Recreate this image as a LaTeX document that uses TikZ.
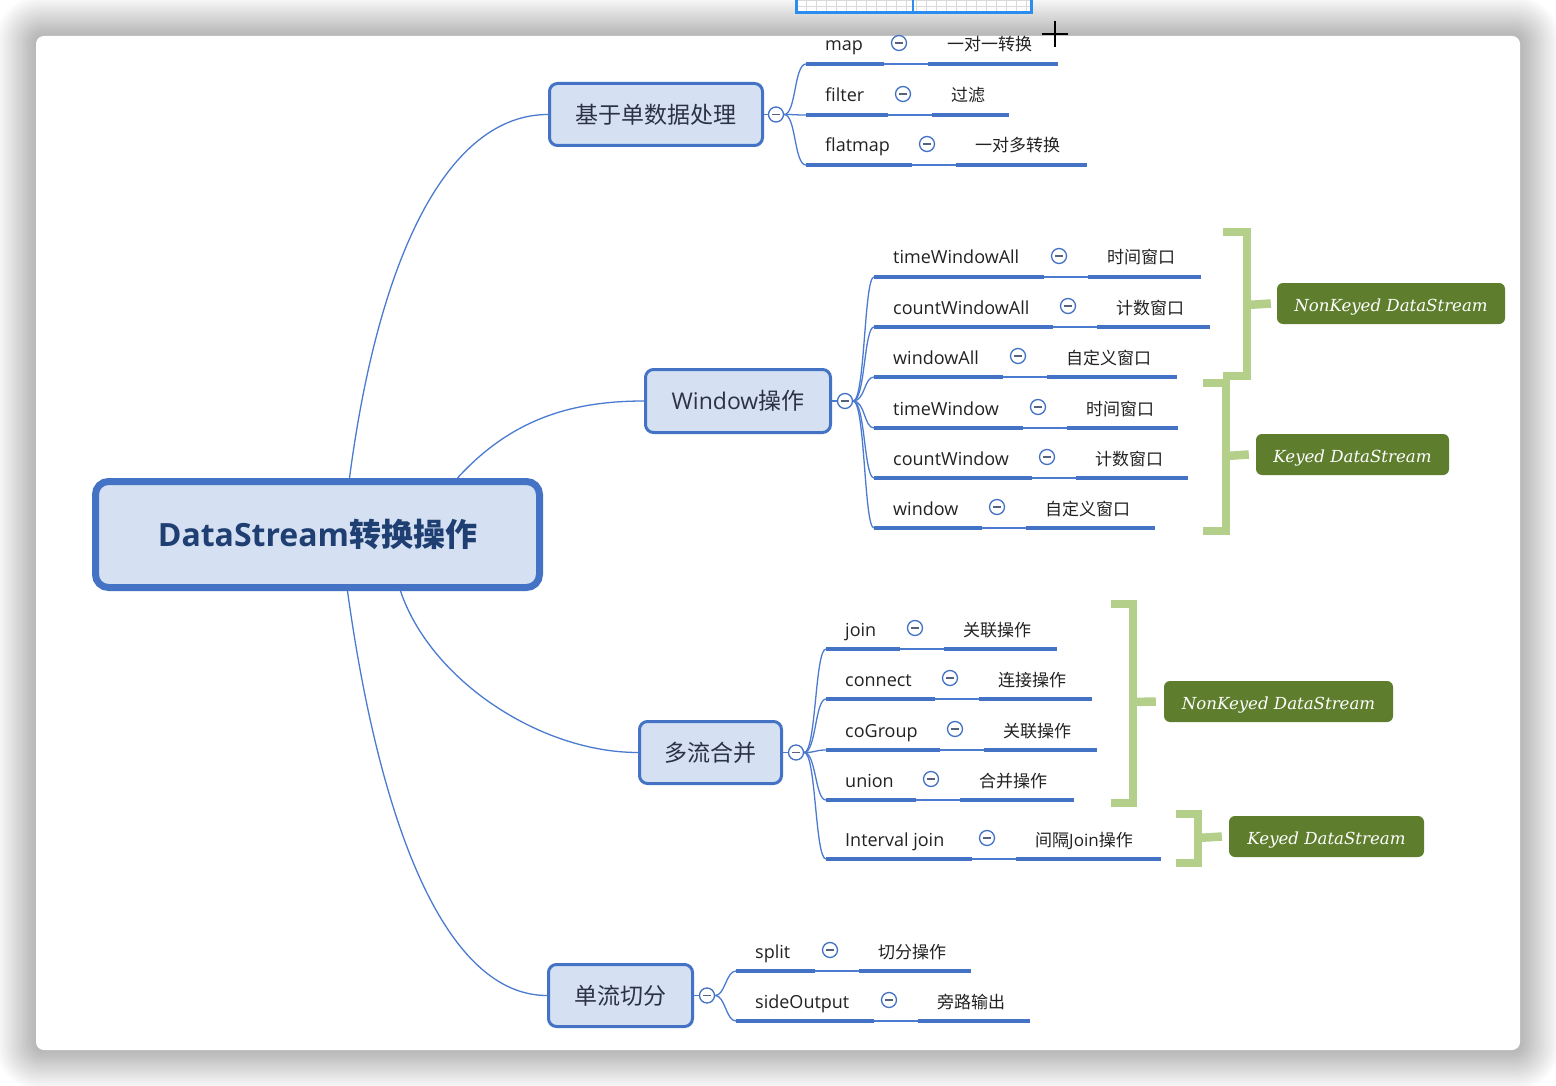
\documentclass[tikz,border=0pt]{standalone}
\usepackage{fontspec}
\setmainfont{Open Sans}
\newfontfamily\cjk{Noto Sans CJK SC}
\newfontfamily\gserif{DejaVu Serif}
\usetikzlibrary{calc}
\definecolor{ublue}{HTML}{4472C4}
\definecolor{cblue}{HTML}{4A7BD0}
\definecolor{boxfill}{HTML}{D5E1F2}
\definecolor{roottext}{HTML}{1F3F73}
\definecolor{l1text}{HTML}{2B3245}
\definecolor{leaftext}{HTML}{222222}
\definecolor{brkgreen}{HTML}{B4CF8A}
\definecolor{boxgreen}{HTML}{5E7E2E}
\definecolor{minusc}{HTML}{55627D}
\definecolor{gridblue}{HTML}{2D8CF0}
\newcommand\zh[1]{{\cjk #1}}
\newcommand\leaf[7]{%
  \coordinate (#1a) at (#3,#2);
  \coordinate (#1b) at (#4,#2);
  \coordinate (#1c) at (#4+44,#2);
  \coordinate (#1d) at (#5,#2);
  \draw[uline] (#1a) -- (#1b);
  \draw[conn] (#1b) -- (#1c);
  \draw[uline] (#1c) -- (#1d);
  \node[lbl] (#1t) at ($(#1a)+(19,-13)$) {#6};
  \node[dsc] (#1s) at ($(#1c)+(19,-13)$) {#7};
  \node[tog] (#1o) at ($(#1b)+(15,-21)$) {};
}
\begin{document}
\begin{tikzpicture}[x=1pt,y=-1pt,
  uline/.style={draw=ublue, line width=4.2pt},
  conn/.style={draw=cblue, line width=1.3pt},
  lbl/.style={anchor=base west, inner sep=0pt, text=leaftext, font=\fontsize{18}{20}\selectfont},
  dsc/.style={anchor=base west, inner sep=0pt, text=leaftext, font=\cjk\fontsize{17}{20}\selectfont},
  tog/.style={circle, draw=ublue, line width=1.3pt, fill=white, minimum size=15pt, inner sep=0pt,
    path picture={\draw[minusc, line width=1.2pt] ($(path picture bounding box.center)+(-3.6,0)$) -- ($(path picture bounding box.center)+(3.6,0)$);}},
  lone/.style={draw=ublue, line width=3pt, fill=boxfill, rounded corners=8pt, inner sep=0pt,
    text=l1text, font=\fontsize{23}{26}\selectfont},
  rootbox/.style={draw=ublue, line width=7pt, fill=boxfill, rounded corners=13pt, inner sep=0pt,
    text=roottext, font=\bfseries\fontsize{32}{36}\selectfont},
  brk/.style={draw=brkgreen, line width=8.5pt},
  gbox/.style={fill=boxgreen, rounded corners=6pt, inner sep=0pt, minimum height=41pt,
    text height=15.8pt, text depth=0pt,
    text=white, font=\gserif\itshape\fontsize{16.6}{18}\selectfont}
]
\useasboundingbox (0,0) rectangle (1556,1086);
\fill[white] (0,0) rectangle (1556,1086);
% window shadow
\foreach \i in {1,...,18} {
  \fill[black, opacity=0.015, rounded corners=8+\i*2] (36-\i*2.2,36-\i*2.2) rectangle (1520+\i*2.2,1050+\i*2.2);
}
\fill[white, rounded corners=8pt] (36,36) rectangle (1520,1050);
% top screen element
\fill[white] (796,-4) rectangle (1031,13);
\foreach \gx in {806,816,...,1026} { \draw[black!15, line width=0.6pt] (\gx,-4) -- (\gx,13); }
\foreach \gy in {0,6} { \draw[black!15, line width=0.6pt] (796,\gy) -- (1031,\gy); }
\draw[gridblue, line width=3pt] (796,-4) rectangle (1031,13);
\draw[gridblue, line width=2pt] (913,-4) -- (913,13);
% cursor
\draw[black, line width=1.8pt] (1042,34) -- (1068,34);
\draw[black, line width=1.8pt] (1055,21) -- (1055,47);

% root and level-1 nodes
\node[rootbox, minimum width=444pt, minimum height=106pt] (root) at (317.5,534.5) {DataStream\zh{转换操作}};
\node[lone, minimum width=213pt, minimum height=62pt] (g1) at (656,114.5) {\zh{基于单数据处理}};
\node[lone, minimum width=185pt, minimum height=63pt] (g2) at (738,401) {Window\zh{操作}};
\node[lone, minimum width=142pt, minimum height=62pt] (g3) at (710.5,752.5) {\zh{多流合并}};
\node[lone, minimum width=144pt, minimum height=62pt] (g4) at (620.5,995.5) {\zh{单流切分}};

% root connectors
\draw[conn] ([xshift=32pt]root.north) .. controls +(30,-228) and +(-98,0) .. (g1.west);
\draw[conn] ([xshift=140pt]root.north) .. controls +(53,-58) and +(-74,0) .. (g2.west);
\draw[conn] ([xshift=83pt]root.south) .. controls +(30,89) and +(-98,0) .. (g3.west);
\draw[conn] ([xshift=30pt]root.south) .. controls +(33,239) and +(-100,0) .. (g4.west);

% level-1 toggles
\node[tog] (g1o) at ($(g1.east)+(12,0)$) {};
\node[tog] (g2o) at ($(g2.east)+(13,0)$) {};
\node[tog] (g3o) at ($(g3.east)+(13,0)$) {};
\node[tog] (g4o) at ($(g4.east)+(13,0)$) {};
\draw[conn] (g1.east) -- (g1o);
\draw[conn] (g2.east) -- (g2o);
\draw[conn] (g3.east) -- (g3o);
\draw[conn] (g4.east) -- (g4o);

% group 1 leaves
\leaf{map}{64}{806}{884}{1058}{map}{一对一转换}
\leaf{filter}{115}{806}{888}{1009}{filter}{过滤}
\leaf{flatmap}{165}{806}{912}{1087}{flatmap}{一对多转换}
% group 2 leaves
\leaf{twa}{277}{874}{1044}{1201}{timeWindowAll}{时间窗口}
\leaf{cwa}{327}{874}{1053}{1210}{countWindowAll}{计数窗口}
\leaf{wa}{377}{874}{1003}{1177}{windowAll}{自定义窗口}
\leaf{tw}{428}{874}{1023}{1178}{timeWindow}{时间窗口}
\leaf{cw}{478}{874}{1032}{1188}{countWindow}{计数窗口}
\leaf{w}{528}{874}{982}{1155}{window}{自定义窗口}
% group 3 leaves
\leaf{join}{649}{826}{900}{1057}{join}{关联操作}
\leaf{connect}{699}{826}{935}{1092}{connect}{连接操作}
\leaf{cogroup}{750}{826}{940}{1097}{coGroup}{关联操作}
\leaf{union}{800}{826}{916}{1074}{union}{合并操作}
\leaf{ij}{859}{826}{972}{1161}{Interval join}{间隔{\rmfamily Join}操作}
% group 4 leaves
\leaf{split}{971}{736}{815}{971}{split}{切分操作}
\leaf{side}{1021}{736}{874}{1030}{sideOutput}{旁路输出}

% fork connectors
\foreach \n in {map,filter,flatmap} { \draw[conn] (g1o.east) .. controls +(12,0) and +(-12,0) .. (\n a); }
\foreach \n in {twa,cwa,wa,tw,cw,w} { \draw[conn] (g2o.east) .. controls +(12,0) and +(-10,0) .. (\n a); }
\foreach \n in {join,connect,cogroup,union,ij} { \draw[conn] (g3o.east) .. controls +(12,0) and +(-11,0) .. (\n a); }
\foreach \n in {split,side} { \draw[conn] (g4o.east) .. controls +(10,0) and +(-10,0) .. (\n a); }

% green labels
\node[gbox, minimum width=228pt] (nk1) at (1391,303.5) {NonKeyed DataStream};
\node[gbox, minimum width=193pt] (k1) at (1352.5,454.5) {Keyed DataStream};
\node[gbox, minimum width=229pt] (nk2) at (1278.5,701.5) {NonKeyed DataStream};
\node[gbox, minimum width=195pt] (k2) at (1326.5,836.5) {Keyed DataStream};

% brackets
\coordinate (b1) at (1247,305);
\draw[brk] (1223,232) -- (1247,232) -- (1247,376) -- (1223,376);
\draw[brk] (b1) -- ([xshift=-6pt]nk1.west);
\coordinate (b2) at (1226,456);
\draw[brk] (1203,383) -- (1226,383) -- (1226,531) -- (1203,531);
\draw[brk] (b2) -- ([xshift=-7pt]k1.west);
\coordinate (b3) at (1133,702);
\draw[brk] (1111,604) -- (1133,604) -- (1133,803) -- (1111,803);
\draw[brk] (b3) -- ([xshift=-8pt]nk2.west);
\coordinate (b4) at (1198,838);
\draw[brk] (1176,814) -- (1198,814) -- (1198,863) -- (1176,863);
\draw[brk] (b4) -- ([xshift=-7pt]k2.west);
\end{tikzpicture}
\end{document}
